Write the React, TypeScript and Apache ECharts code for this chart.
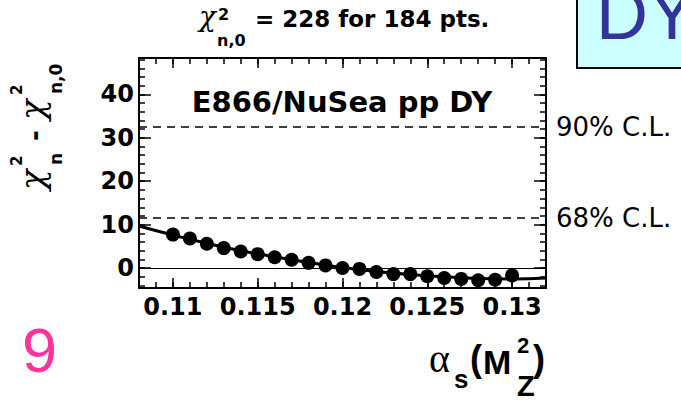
import React, { useEffect, useRef } from "react";
import * as echarts from "echarts";

// ---- data ----
const pointX = [0.110, 0.111, 0.112, 0.113, 0.114, 0.115, 0.116, 0.117, 0.118, 0.119, 0.120,
  0.121, 0.122, 0.123, 0.124, 0.125, 0.126, 0.127, 0.128, 0.129, 0.130];
const pointY = [7.7, 6.8, 5.6, 4.6, 3.8, 3.2, 2.5, 1.9, 1.2, 0.6, 0.0,
  -0.2, -0.9, -1.4, -1.4, -1.9, -2.3, -2.5, -2.8, -2.7, -1.7];

const curveX = [0.108, 0.110, 0.112, 0.114, 0.116, 0.118, 0.120, 0.122, 0.124, 0.126, 0.128, 0.130, 0.132];
const curveY = [9.7, 7.6, 5.7, 4.0, 2.6, 1.3, 0.1, -0.8, -1.5, -2.0, -2.4, -2.5, -2.3];

const clLevels = [32.5, 11.6];
const clLabels = ["90% C.L.", "68% C.L."];

const xMin = 0.108;
const xMax = 0.132;
const yMin = -4.6;
const yMax = 48.4;

const xMajorTicks = [0.11, 0.115, 0.12, 0.125, 0.13];
const xMinorTicks = [0.108, 0.109, 0.110, 0.111, 0.112, 0.113, 0.114, 0.115, 0.116, 0.117, 0.118,
  0.119, 0.120, 0.121, 0.122, 0.123, 0.124, 0.125, 0.126, 0.127, 0.128, 0.129, 0.130, 0.131, 0.132];
const yMajorTicks = [0, 10, 20, 30, 40];
const yMinorTicks = [-4, -2, 0, 2, 4, 6, 8, 10, 12, 14, 16, 18, 20, 22, 24, 26, 28, 30, 32, 34, 36,
  38, 40, 42, 44, 46, 48];

const titleMain = "= 228 for 184 pts.";
const plotLabel = "E866/NuSea pp DY";
const pageNumber = "9";
const boxText = "DY";

const SANS = '"DejaVu Sans"';
const ARIAL = '"Liberation Sans"';
const SERIF = '"Liberation Serif"';
const CHI = '"DejaVu Serif"';

// text placed by its baseline
function T(text: string, x: number, baseline: number, size: number, family: string, opts: any = {}) {
  return {
    type: "text",
    x,
    y: baseline - 0.35 * size,
    z: 100,
    silent: true,
    style: {
      text,
      font: `${opts.style || "normal"} ${opts.weight || "normal"} ${size}px ${family}`,
      fill: opts.color || "#000",
      textAlign: opts.align || "left",
      textVerticalAlign: "middle",
    },
  };
}

export default function App() {
  const ref = useRef<HTMLDivElement>(null);

  useEffect(() => {
    document.body.style.margin = "0";
    if (!ref.current) return;
    const chart = echarts.init(ref.current, undefined, { renderer: "svg" });

    const axisLineStyle = { color: "#000", width: 2 };
    const tickStyle = { color: "#000", width: 1.5 };
    const labelFont = { color: "#000", fontFamily: "DejaVu Sans", fontWeight: "bold" as const, fontSize: 24 };

    const xBase = { type: "value", min: xMin, max: xMax, splitLine: { show: false } };
    const yBase = { type: "value", min: yMin, max: yMax, splitLine: { show: false } };
    const lineOn = { show: true, onZero: false, lineStyle: axisLineStyle };
    const lineOff = { show: false, onZero: false };

    const option: any = {
      animation: false,
      backgroundColor: "#fff",
      grid: { left: 139, right: 135, top: 58, bottom: 116 },
      xAxis: [
        { ...xBase, position: "bottom", axisLine: lineOn,
          axisTick: { show: true, inside: true, length: 6, customValues: xMinorTicks, lineStyle: tickStyle },
          axisLabel: { show: false } },
        { ...xBase, position: "bottom", axisLine: lineOff,
          axisTick: { show: true, inside: true, length: 10, customValues: xMajorTicks, lineStyle: tickStyle },
          axisLabel: { show: true, customValues: xMajorTicks, margin: 7, ...labelFont } },
        { ...xBase, position: "top", axisLine: lineOn,
          axisTick: { show: true, inside: true, length: 6, customValues: xMinorTicks, lineStyle: tickStyle },
          axisLabel: { show: false } },
        { ...xBase, position: "top", axisLine: lineOff,
          axisTick: { show: true, inside: true, length: 10, customValues: xMajorTicks, lineStyle: tickStyle },
          axisLabel: { show: false } },
      ],
      yAxis: [
        { ...yBase, position: "left", axisLine: lineOn,
          axisTick: { show: true, inside: true, length: 6, customValues: yMinorTicks, lineStyle: tickStyle },
          axisLabel: { show: false } },
        { ...yBase, position: "left", axisLine: lineOff,
          axisTick: { show: true, inside: true, length: 12, customValues: yMajorTicks, lineStyle: tickStyle },
          axisLabel: { show: true, customValues: yMajorTicks, margin: 5, ...labelFont } },
        { ...yBase, position: "right", axisLine: lineOn,
          axisTick: { show: true, inside: true, length: 6, customValues: yMinorTicks, lineStyle: tickStyle },
          axisLabel: { show: false } },
        { ...yBase, position: "right", axisLine: lineOff,
          axisTick: { show: true, inside: true, length: 12, customValues: yMajorTicks, lineStyle: tickStyle },
          axisLabel: { show: false } },
      ],
      series: [
        {
          type: "line",
          xAxisIndex: 0,
          yAxisIndex: 0,
          data: curveX.map((x, i) => [x, curveY[i]]),
          smooth: true,
          showSymbol: false,
          symbol: "none",
          lineStyle: { color: "#000", width: 3 },
          markLine: {
            silent: true,
            symbol: ["none", "none"],
            animation: false,
            data: [
              ...clLevels.map((v, i) => ({
                yAxis: v,
                lineStyle: { type: [8, 6], color: "#000", width: 1.5 },
                label: {
                  show: true, position: "end", distance: 10, formatter: clLabels[i],
                  color: "#000", fontFamily: "DejaVu Sans", fontSize: 26,
                },
              })),
              { yAxis: 0, lineStyle: { type: "solid", color: "#000", width: 1.2 }, label: { show: false } },
            ],
          },
        },
        {
          type: "scatter",
          xAxisIndex: 0,
          yAxisIndex: 0,
          data: pointX.map((x, i) => [x, pointY[i]]),
          symbol: "circle",
          symbolSize: 14,
          itemStyle: { color: "#000", opacity: 1 },
        },
      ],
      graphic: [
        // DY box (top right)
        {
          type: "rect", z: 90, silent: true,
          shape: { x: 577, y: -10, width: 130, height: 78 },
          style: { fill: "#ccffff", stroke: "#000", lineWidth: 2 },
        },
        T(boxText, 596, 39, 72, ARIAL, { color: "#333399" }),
        // title
        T("χ", 199, 26, 28, CHI, { style: "italic" }),
        T("2", 218, 20, 16, SANS, { weight: "bold" }),
        T("n,0", 217, 46, 16, SANS, { weight: "bold" }),
        T(titleMain, 255, 27, 23, SANS, { weight: "bold" }),
        // label inside plot
        T(plotLabel, 342, 112, 29, SANS, { weight: "bold", align: "center" }),
        // page number
        T(pageNumber, 22, 372, 63, ARIAL, { color: "#ff3399" }),
        // x axis title  alpha_s(M_Z^2)
        T("α", 429, 372, 40, SERIF),
        T("s", 454, 388, 26, ARIAL, { weight: "bold" }),
        T("(", 470, 371, 36, ARIAL, { weight: "bold" }),
        T("M", 483, 374, 34, ARIAL, { weight: "bold" }),
        T("2", 517, 353, 22, ARIAL, { weight: "bold" }),
        T("Z", 517, 396, 29, ARIAL, { weight: "bold" }),
        T(")", 533, 371, 36, ARIAL, { weight: "bold" }),
        // y axis title  chi_n^2 - chi_{n,0}^2 (rotated)
        {
          type: "group",
          x: 44,
          y: 190,
          rotation: Math.PI / 2,
          children: [
            T("χ", 0, 0, 34, CHI, { style: "italic" }),
            T("2", 24, -22, 15, SANS, { weight: "bold" }),
            T("n", 25, 18, 17, SANS, { weight: "bold" }),
            T("-", 49, 0, 26, SANS, { weight: "bold" }),
            T("χ", 70, 0, 34, CHI, { style: "italic" }),
            T("2", 95, -22, 15, SANS, { weight: "bold" }),
            T("n,0", 96, 18, 17, SANS, { weight: "bold" }),
          ],
        },
      ],
    };

    chart.setOption(option);
    return () => chart.dispose();
  }, []);

  return (
    <div
      ref={ref}
      style={{ position: "absolute", left: 0, top: 0, width: 681, height: 404 }}
    />
  );
}
